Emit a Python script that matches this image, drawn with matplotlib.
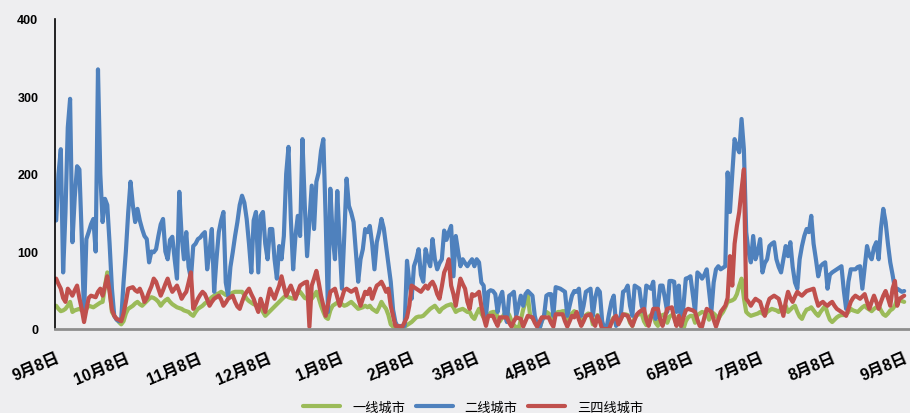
import numpy as np
import pandas as pd
import matplotlib
matplotlib.use("Agg")
import matplotlib.pyplot as plt

plt.rcParams['font.family'] = ['Liberation Sans', 'Noto Sans CJK SC']

# daily values, 2016-09-08 .. 2017-09-08
start = pd.Timestamp('2016-09-08')
end = pd.Timestamp('2017-09-08')

tier1 = [
    30, 26, 23, 24, 26, 30, 35, 22, 24, 25,
    26, 24, 22, 26, 30, 29, 28, 30, 32, 34,
    35, 55, 73, 52, 22, 17, 13, 9, 6, 10,
    20, 26, 28, 30, 33, 35, 32, 30, 33, 36,
    39, 41, 40, 38, 35, 30, 34, 37, 39, 35,
    32, 30, 28, 27, 26, 24, 23, 22, 19, 17,
    22, 26, 28, 30, 33, 35, 38, 41, 43, 45,
    46, 48, 46, 44, 43, 45, 47, 48, 48, 48,
    48, 44, 39, 36, 34, 32, 31, 30, 30, 22,
    17, 20, 23, 26, 29, 32, 35, 38, 41, 43,
    41, 40, 39, 43, 46, 48, 44, 40, 39, 39,
    39, 43, 48, 40, 30, 22, 15, 13, 24, 30,
    32, 34, 35, 32, 30, 31, 33, 35, 32, 29,
    26, 27, 28, 30, 28, 30, 26, 24, 22, 28,
    35, 30, 26, 18, 6, 3, 1, 0, 1, 2,
    3, 5, 7, 9, 12, 15, 16, 16, 17, 20,
    23, 26, 28, 30, 26, 22, 26, 28, 30, 31,
    32, 28, 22, 24, 25, 26, 24, 22, 22, 16,
    13, 20, 26, 20, 15, 13, 17, 21, 22, 22,
    16, 10, 15, 20, 23, 18, 10, 5, 2, 0,
    12, 25, 35, 43, 17, 14, 10, 5, 0, 10,
    18, 22, 20, 17, 12, 20, 22, 22, 23, 23,
    12, 17, 20, 23, 20, 18, 5, 12, 18, 20,
    19, 6, 10, 18, 12, 2, 0, 1, 3, 10,
    15, 5, 8, 14, 18, 19, 18, 8, 4, 15,
    18, 19, 20, 10, 5, 15, 18, 19, 8, 4,
    16, 18, 19, 8, 16, 18, 17, 5, 13, 3,
    0, 10, 15, 17, 17, 8, 18, 20, 22, 21,
    20, 12, 22, 20, 17, 13, 18, 22, 28, 35,
    36, 37, 39, 45, 56, 65, 40, 22, 19, 17,
    18, 19, 20, 22, 20, 18, 22, 24, 26, 25,
    24, 22, 26, 28, 30, 22, 25, 28, 30, 22,
    16, 13, 20, 25, 26, 28, 24, 20, 17, 22,
    26, 30, 20, 12, 9, 12, 15, 17, 18, 18,
    19, 22, 26, 24, 23, 22, 25, 28, 30, 27,
    25, 23, 26, 28, 30, 24, 19, 17, 20, 24,
    26, 30, 39, 38, 36, 35,
]

tier2 = [
    140, 200, 232, 73, 150, 260, 297, 112, 170, 210,
    206, 120, 17, 116, 125, 135, 142, 100, 335, 200,
    138, 168, 160, 110, 52, 17, 12, 10, 13, 60,
    100, 150, 190, 160, 138, 155, 140, 129, 120, 116,
    86, 100, 99, 103, 120, 135, 142, 100, 90, 115,
    119, 90, 65, 177, 120, 90, 125, 80, 65, 107,
    110, 116, 118, 122, 125, 77, 100, 129, 48, 90,
    125, 140, 151, 60, 43, 80, 99, 120, 138, 160,
    172, 163, 142, 110, 73, 140, 151, 73, 146, 151,
    110, 90, 129, 129, 90, 65, 107, 90, 120, 200,
    235, 142, 77, 120, 146, 120, 245, 160, 94, 140,
    185, 129, 190, 202, 230, 245, 142, 22, 181, 120,
    90, 178, 110, 52, 120, 194, 159, 150, 138, 100,
    61, 90, 103, 129, 125, 133, 110, 77, 112, 125,
    142, 130, 107, 85, 61, 25, 9, 3, 4, 3,
    4, 88, 60, 39, 81, 90, 103, 70, 61, 103,
    90, 81, 116, 90, 77, 85, 90, 127, 115, 125,
    133, 68, 120, 100, 81, 90, 85, 81, 86, 90,
    81, 90, 86, 60, 56, 17, 48, 50, 49, 45,
    22, 40, 48, 20, 9, 43, 45, 48, 17, 30,
    43, 30, 45, 49, 46, 43, 17, 5, 0, 10,
    17, 43, 45, 45, 17, 54, 53, 52, 50, 48,
    17, 30, 43, 49, 48, 52, 17, 30, 48, 50,
    52, 17, 40, 52, 48, 10, 0, 3, 20, 35,
    43, 4, 10, 17, 48, 50, 56, 30, 17, 56,
    54, 52, 30, 22, 56, 54, 52, 61, 13, 30,
    56, 56, 40, 22, 62, 62, 61, 22, 56, 4,
    30, 65, 66, 68, 45, 22, 73, 70, 65, 70,
    77, 50, 22, 60, 77, 81, 77, 79, 81, 202,
    151, 200, 245, 235, 228, 271, 232, 125, 100, 86,
    120, 90, 100, 116, 73, 85, 90, 107, 110, 112,
    90, 80, 73, 90, 107, 94, 112, 80, 60, 52,
    90, 107, 120, 129, 125, 146, 110, 90, 68, 81,
    84, 86, 52, 70, 73, 75, 77, 79, 81, 50,
    26, 61, 77, 77, 77, 80, 81, 52, 80, 107,
    95, 90, 105, 112, 90, 130, 155, 138, 110, 86,
    70, 52, 52, 50, 48, 49,
]

tier34 = [
    65, 58, 52, 40, 35, 52, 48, 43, 50, 56,
    40, 26, 9, 25, 40, 43, 42, 41, 48, 52,
    43, 55, 68, 48, 25, 17, 13, 12, 10, 20,
    35, 52, 53, 54, 50, 48, 52, 45, 35, 40,
    48, 55, 65, 61, 52, 43, 50, 58, 65, 55,
    48, 52, 56, 48, 39, 44, 48, 60, 73, 26,
    32, 39, 44, 48, 45, 38, 30, 35, 39, 41,
    43, 38, 30, 34, 39, 41, 43, 35, 29, 26,
    35, 43, 48, 52, 45, 39, 30, 22, 39, 30,
    22, 38, 52, 45, 39, 48, 56, 68, 55, 43,
    50, 56, 48, 39, 48, 56, 58, 60, 61, 3,
    56, 65, 75, 60, 43, 30, 17, 32, 48, 50,
    52, 41, 30, 40, 50, 52, 50, 48, 50, 52,
    40, 30, 39, 48, 45, 52, 39, 48, 56, 58,
    61, 55, 48, 52, 30, 17, 4, 4, 3, 3,
    9, 15, 30, 56, 54, 52, 50, 48, 52, 56,
    52, 58, 61, 55, 45, 39, 55, 73, 80, 90,
    56, 45, 30, 48, 65, 58, 52, 35, 26, 45,
    43, 45, 48, 30, 15, 4, 17, 17, 17, 10,
    4, 15, 15, 15, 15, 8, 3, 10, 15, 14,
    13, 3, 10, 17, 16, 15, 8, 3, 9, 15,
    15, 15, 15, 8, 3, 19, 19, 19, 19, 10,
    3, 10, 17, 15, 22, 12, 4, 10, 17, 18,
    19, 10, 4, 17, 10, 0, 0, 0, 0, 8,
    14, 17, 6, 12, 19, 18, 17, 10, 4, 12,
    19, 22, 24, 26, 12, 4, 15, 26, 26, 26,
    12, 4, 15, 26, 27, 28, 14, 4, 17, 4,
    15, 24, 26, 25, 24, 22, 12, 4, 3, 15,
    26, 24, 22, 12, 3, 12, 22, 26, 30, 40,
    94, 56, 110, 133, 151, 180, 206, 39, 35, 30,
    35, 39, 37, 35, 25, 17, 30, 39, 41, 43,
    41, 39, 28, 17, 35, 48, 40, 35, 42, 48,
    45, 43, 46, 49, 50, 51, 52, 40, 30, 33,
    35, 32, 30, 33, 35, 30, 26, 24, 22, 20,
    17, 26, 35, 40, 43, 41, 39, 42, 45, 35,
    26, 35, 43, 35, 26, 35, 43, 49, 40, 30,
    52, 62, 30, 39, 41, 43,
]

series_names = ['一线城市', '二线城市', '三四线城市']
colors = ['#9BBB59', '#4F81BD', '#C0504D']

dates = pd.date_range(start, end, freq='D')
days = (dates - start).days.values
tick_dates = pd.date_range(start, end, freq=pd.DateOffset(months=1))
tick_days = (tick_dates - start).days.values
tick_labels = [f"{d.month}月{d.day}日" for d in tick_dates]

bg = '#EEEEF0'
fig = plt.figure(figsize=(9.1, 4.14), dpi=100, facecolor=bg)
ax = fig.add_axes([55/910, 84/414, 855/910, 310/414], facecolor=bg)

for vals, name, c in zip([tier1, tier2, tier34], series_names, colors):
    ax.plot(days, vals, color=c, lw=3.0, label=name,
            solid_joinstyle='round', solid_capstyle='round')

ax.set_xlim(-0.5, 367.5)
ax.set_ylim(0, 400)
ax.set_yticks([0, 100, 200, 300, 400])
ax.tick_params(axis='y', length=0, pad=12, labelsize=9)
for t in ax.get_yticklabels():
    t.set_fontweight('bold')

ax.set_xticks(tick_days)
ax.set_xticklabels(tick_labels, rotation=23, ha='right', va='top',
                   rotation_mode='anchor', fontsize=11.5, fontweight='bold')
ax.tick_params(axis='x', length=0, pad=15)

for s in ['top', 'right']:
    ax.spines[s].set_visible(False)
ax.spines['left'].set_color('black')
ax.spines['left'].set_linewidth(1.2)
ax.spines['bottom'].set_color('#8E8E8E')
ax.spines['bottom'].set_linewidth(2)

fig.legend(loc='center', bbox_to_anchor=(0.52, 0.014), ncol=3, frameon=False,
           fontsize=9.5, handlelength=2.8, handletextpad=0.9, columnspacing=0.8)

fig.savefig('out.png', dpi=100, facecolor=bg)
